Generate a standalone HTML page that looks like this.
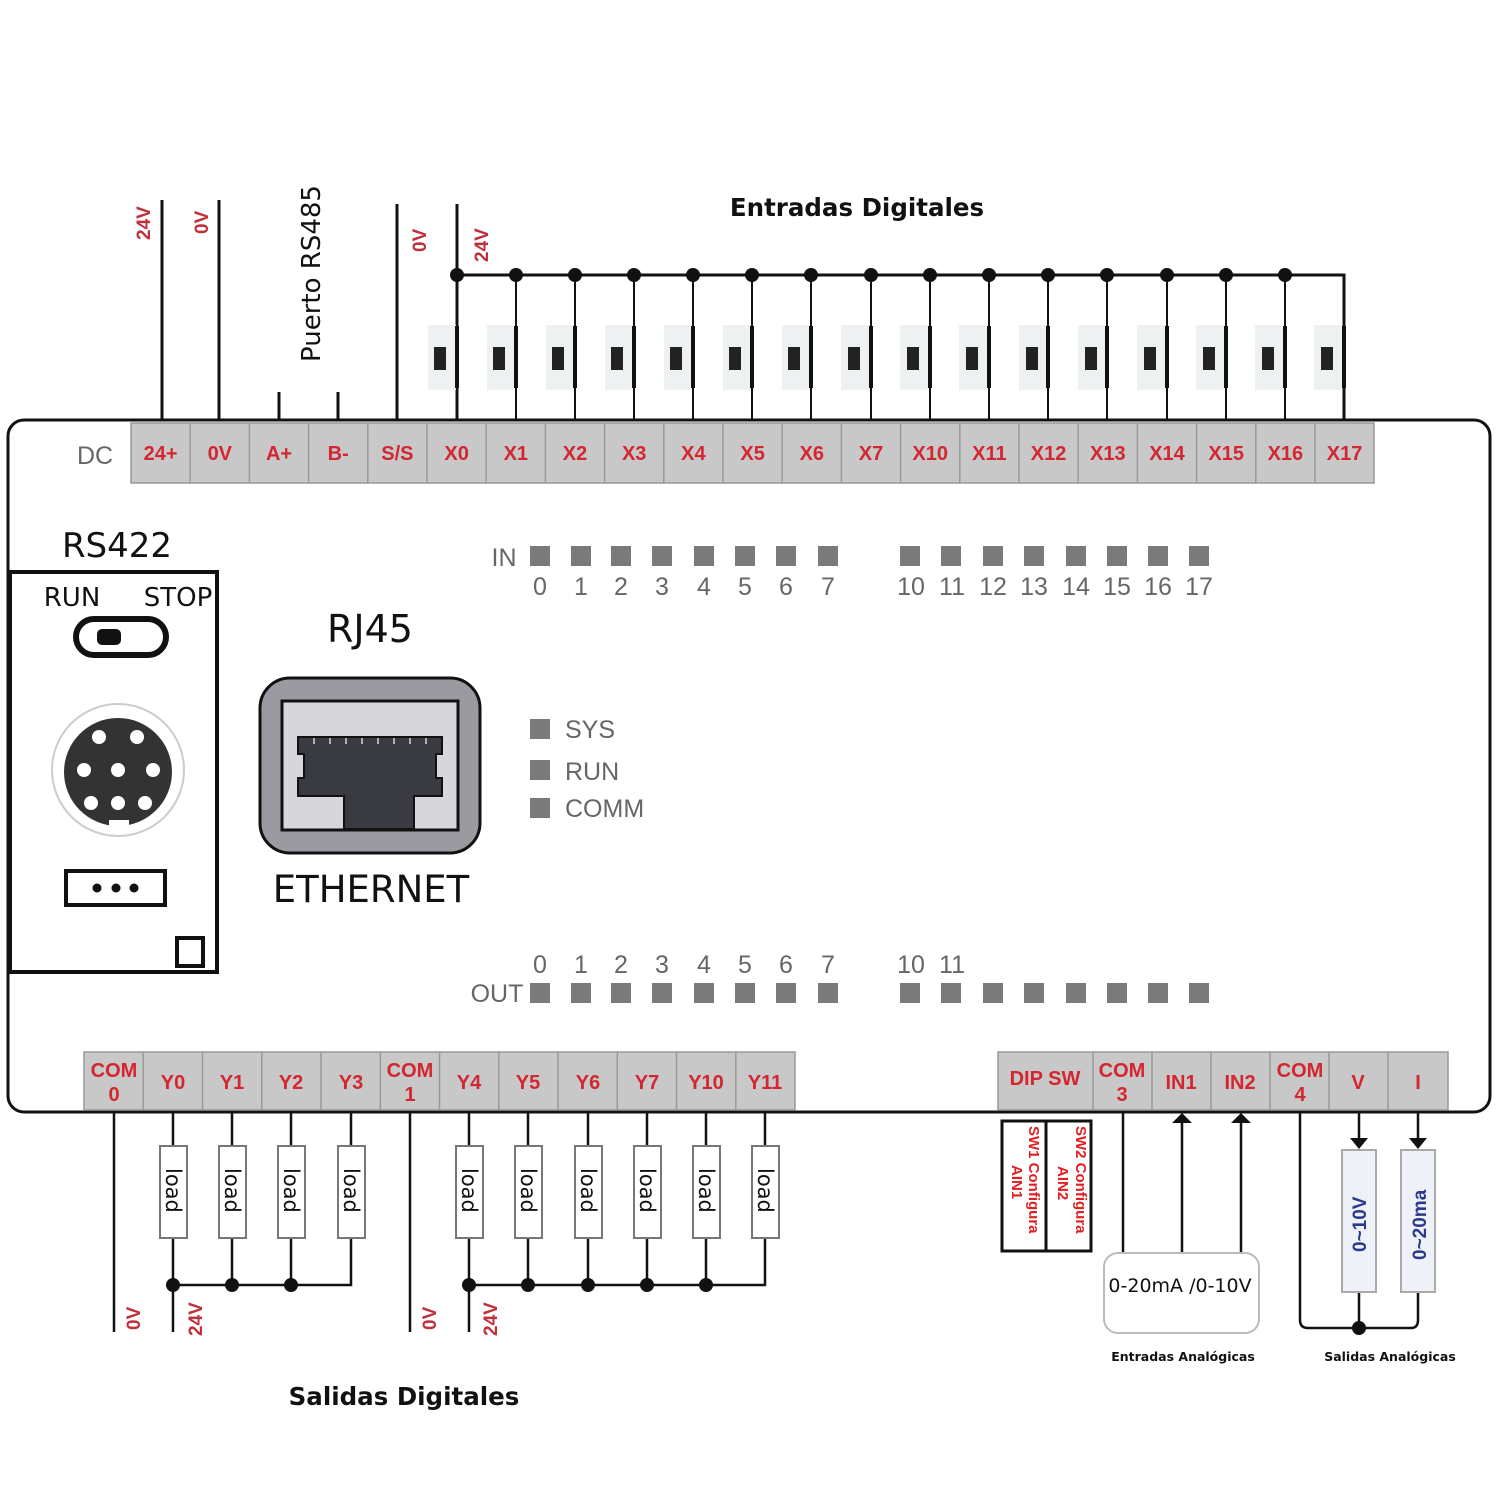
<!DOCTYPE html>
<html><head><meta charset="utf-8"><style>
html,body{margin:0;padding:0;background:#fff;width:1500px;height:1500px;overflow:hidden}
svg{display:block}
.t{font-family:"Liberation Sans",sans-serif;font-weight:bold;fill:#d42630;font-size:20px;text-anchor:middle}
.g{font-family:"Liberation Sans Narrow","Liberation Sans",sans-serif;fill:#666;font-size:25px;text-anchor:middle}
.r{font-family:"Liberation Sans",sans-serif;fill:#c0303a;font-size:19px;font-weight:bold}
.k{font-family:"DejaVu Sans","Liberation Sans",sans-serif;fill:#111}
.b{font-family:"DejaVu Sans","Liberation Sans",sans-serif;font-weight:bold;fill:#111}
</style></head><body>
<svg width="1500" height="1500" viewBox="0 0 1500 1500" xmlns="http://www.w3.org/2000/svg">
<rect x="8" y="420" width="1482" height="692" rx="16" fill="#fff" stroke="#111" stroke-width="3"/>

<rect x="131" y="423" width="1243" height="60" fill="#c8c8c8" stroke="#999" stroke-width="1.5"/>
<g stroke="#999" stroke-width="1.5">
<line x1="190.2" y1="423" x2="190.2" y2="483"/><line x1="249.4" y1="423" x2="249.4" y2="483"/><line x1="308.6" y1="423" x2="308.6" y2="483"/><line x1="367.8" y1="423" x2="367.8" y2="483"/><line x1="427" y1="423" x2="427" y2="483"/><line x1="486.2" y1="423" x2="486.2" y2="483"/><line x1="545.4" y1="423" x2="545.4" y2="483"/><line x1="604.6" y1="423" x2="604.6" y2="483"/><line x1="663.8" y1="423" x2="663.8" y2="483"/><line x1="723" y1="423" x2="723" y2="483"/><line x1="782.2" y1="423" x2="782.2" y2="483"/><line x1="841.4" y1="423" x2="841.4" y2="483"/><line x1="900.6" y1="423" x2="900.6" y2="483"/><line x1="959.8" y1="423" x2="959.8" y2="483"/><line x1="1019" y1="423" x2="1019" y2="483"/><line x1="1078.2" y1="423" x2="1078.2" y2="483"/><line x1="1137.4" y1="423" x2="1137.4" y2="483"/><line x1="1196.6" y1="423" x2="1196.6" y2="483"/><line x1="1255.8" y1="423" x2="1255.8" y2="483"/><line x1="1315" y1="423" x2="1315" y2="483"/>
</g>
<g class="t">
<text x="160.6" y="460">24+</text><text x="219.8" y="460">0V</text><text x="279" y="460">A+</text><text x="338.2" y="460">B-</text><text x="397.4" y="460">S/S</text><text x="456.6" y="460">X0</text><text x="515.8" y="460">X1</text><text x="575" y="460">X2</text><text x="634.2" y="460">X3</text><text x="693.4" y="460">X4</text><text x="752.6" y="460">X5</text><text x="811.8" y="460">X6</text><text x="871" y="460">X7</text><text x="930.2" y="460">X10</text><text x="989.4" y="460">X11</text><text x="1048.6" y="460">X12</text><text x="1107.8" y="460">X13</text><text x="1167" y="460">X14</text><text x="1226.2" y="460">X15</text><text x="1285.4" y="460">X16</text><text x="1344.6" y="460">X17</text>
</g>
<text x="95" y="464" class="g" font-size="27">DC</text>

<g stroke="#111" stroke-width="3" fill="none">
<line x1="162" y1="200" x2="162" y2="421"/><line x1="219" y1="200" x2="219" y2="421"/>
<line x1="279" y1="392" x2="279" y2="421"/><line x1="338" y1="392" x2="338" y2="421"/>
<line x1="397" y1="204" x2="397" y2="421"/><line x1="457" y1="204" x2="457" y2="421"/>
<polyline points="457,275 1344,275 1344,421"/>
</g>
<g fill="#eef1f2">
<rect x="428" y="325" width="28" height="65"/><rect x="487" y="325" width="28" height="65"/><rect x="546" y="325" width="28" height="65"/><rect x="605" y="325" width="28" height="65"/><rect x="664" y="325" width="28" height="65"/><rect x="723" y="325" width="28" height="65"/><rect x="782" y="325" width="28" height="65"/><rect x="841" y="325" width="28" height="65"/><rect x="900" y="325" width="28" height="65"/><rect x="959" y="325" width="28" height="65"/><rect x="1019" y="325" width="28" height="65"/><rect x="1078" y="325" width="28" height="65"/><rect x="1137" y="325" width="28" height="65"/><rect x="1196" y="325" width="28" height="65"/><rect x="1255" y="325" width="28" height="65"/><rect x="1314" y="325" width="28" height="65"/>
</g>
<g stroke="#111" stroke-width="2" fill="none">
<line x1="516" y1="275" x2="516" y2="421"/><line x1="575" y1="275" x2="575" y2="421"/><line x1="634" y1="275" x2="634" y2="421"/><line x1="693" y1="275" x2="693" y2="421"/><line x1="752" y1="275" x2="752" y2="421"/><line x1="811" y1="275" x2="811" y2="421"/><line x1="871" y1="275" x2="871" y2="421"/><line x1="930" y1="275" x2="930" y2="421"/><line x1="989" y1="275" x2="989" y2="421"/><line x1="1048" y1="275" x2="1048" y2="421"/><line x1="1107" y1="275" x2="1107" y2="421"/><line x1="1167" y1="275" x2="1167" y2="421"/><line x1="1226" y1="275" x2="1226" y2="421"/><line x1="1285" y1="275" x2="1285" y2="421"/>
</g>
<g stroke="#111" stroke-width="4">
<line x1="457" y1="326" x2="457" y2="388"/><line x1="516" y1="326" x2="516" y2="388"/><line x1="575" y1="326" x2="575" y2="388"/><line x1="634" y1="326" x2="634" y2="388"/><line x1="693" y1="326" x2="693" y2="388"/><line x1="752" y1="326" x2="752" y2="388"/><line x1="811" y1="326" x2="811" y2="388"/><line x1="871" y1="326" x2="871" y2="388"/><line x1="930" y1="326" x2="930" y2="388"/><line x1="989" y1="326" x2="989" y2="388"/><line x1="1048" y1="326" x2="1048" y2="388"/><line x1="1107" y1="326" x2="1107" y2="388"/><line x1="1167" y1="326" x2="1167" y2="388"/><line x1="1226" y1="326" x2="1226" y2="388"/><line x1="1285" y1="326" x2="1285" y2="388"/><line x1="1344" y1="326" x2="1344" y2="388"/>
</g>
<g fill="#222">
<rect x="434" y="347" width="12" height="23"/><rect x="493" y="347" width="12" height="23"/><rect x="552" y="347" width="12" height="23"/><rect x="611" y="347" width="12" height="23"/><rect x="670" y="347" width="12" height="23"/><rect x="729" y="347" width="12" height="23"/><rect x="788" y="347" width="12" height="23"/><rect x="848" y="347" width="12" height="23"/><rect x="907" y="347" width="12" height="23"/><rect x="966" y="347" width="12" height="23"/><rect x="1026" y="347" width="12" height="23"/><rect x="1085" y="347" width="12" height="23"/><rect x="1144" y="347" width="12" height="23"/><rect x="1203" y="347" width="12" height="23"/><rect x="1262" y="347" width="12" height="23"/><rect x="1321" y="347" width="12" height="23"/>
</g>
<g fill="#111">
<circle cx="457" cy="275" r="7"/><circle cx="516" cy="275" r="7"/><circle cx="575" cy="275" r="7"/><circle cx="634" cy="275" r="7"/><circle cx="693" cy="275" r="7"/><circle cx="752" cy="275" r="7"/><circle cx="811" cy="275" r="7"/><circle cx="871" cy="275" r="7"/><circle cx="930" cy="275" r="7"/><circle cx="989" cy="275" r="7"/><circle cx="1048" cy="275" r="7"/><circle cx="1107" cy="275" r="7"/><circle cx="1167" cy="275" r="7"/><circle cx="1226" cy="275" r="7"/><circle cx="1285" cy="275" r="7"/>
</g>
<g class="r">
<text transform="translate(150,240) rotate(-90)">24V</text>
<text transform="translate(208,234) rotate(-90)">0V</text>
<text transform="translate(426,252) rotate(-90)">0V</text>
<text transform="translate(488,262) rotate(-90)">24V</text>
</g>
<text transform="translate(320,362) rotate(-90)" class="k" font-size="26">Puerto RS485</text>
<text x="857" y="216" class="b" font-size="24.5" text-anchor="middle">Entradas Digitales</text>

<g fill="#7a7a7a">
<rect x="530" y="546" width="20" height="20"/><rect x="571" y="546" width="20" height="20"/><rect x="611" y="546" width="20" height="20"/><rect x="652" y="546" width="20" height="20"/><rect x="694" y="546" width="20" height="20"/><rect x="735" y="546" width="20" height="20"/><rect x="776" y="546" width="20" height="20"/><rect x="818" y="546" width="20" height="20"/>
<rect x="900" y="546" width="20" height="20"/><rect x="941" y="546" width="20" height="20"/><rect x="983" y="546" width="20" height="20"/><rect x="1024" y="546" width="20" height="20"/><rect x="1066" y="546" width="20" height="20"/><rect x="1107" y="546" width="20" height="20"/><rect x="1148" y="546" width="20" height="20"/><rect x="1189" y="546" width="20" height="20"/>
<rect x="530" y="983" width="20" height="20"/><rect x="571" y="983" width="20" height="20"/><rect x="611" y="983" width="20" height="20"/><rect x="652" y="983" width="20" height="20"/><rect x="694" y="983" width="20" height="20"/><rect x="735" y="983" width="20" height="20"/><rect x="776" y="983" width="20" height="20"/><rect x="818" y="983" width="20" height="20"/>
<rect x="900" y="983" width="20" height="20"/><rect x="941" y="983" width="20" height="20"/><rect x="983" y="983" width="20" height="20"/><rect x="1024" y="983" width="20" height="20"/><rect x="1066" y="983" width="20" height="20"/><rect x="1107" y="983" width="20" height="20"/><rect x="1148" y="983" width="20" height="20"/><rect x="1189" y="983" width="20" height="20"/>
<rect x="530" y="719" width="20" height="20"/><rect x="530" y="760" width="20" height="20"/><rect x="530" y="798" width="20" height="20"/>
</g>
<g class="g">
<text x="504" y="566">IN</text>
<text x="540" y="595">0</text><text x="581" y="595">1</text><text x="621" y="595">2</text><text x="662" y="595">3</text><text x="704" y="595">4</text><text x="745" y="595">5</text><text x="786" y="595">6</text><text x="828" y="595">7</text>
<text x="911" y="595">10</text><text x="952" y="595">11</text><text x="993" y="595">12</text><text x="1034" y="595">13</text><text x="1076" y="595">14</text><text x="1117" y="595">15</text><text x="1158" y="595">16</text><text x="1199" y="595">17</text>
<text x="497" y="1002">OUT</text>
<text x="540" y="973">0</text><text x="581" y="973">1</text><text x="621" y="973">2</text><text x="662" y="973">3</text><text x="704" y="973">4</text><text x="745" y="973">5</text><text x="786" y="973">6</text><text x="828" y="973">7</text>
<text x="911" y="973">10</text><text x="952" y="973">11</text>
<text x="565" y="738" text-anchor="start">SYS</text><text x="565" y="780" text-anchor="start">RUN</text><text x="565" y="817" text-anchor="start">COMM</text>
</g>

<text x="117" y="557" class="k" font-size="34" text-anchor="middle">RS422</text>
<rect x="10" y="572" width="207" height="400" fill="#fff" stroke="#111" stroke-width="4"/>
<text x="72" y="606" class="k" font-size="26" text-anchor="middle">RUN</text>
<text x="178" y="606" class="k" font-size="26" text-anchor="middle">STOP</text>
<rect x="76" y="619" width="90" height="36" rx="18" fill="#fff" stroke="#111" stroke-width="6"/>
<rect x="97" y="629" width="24" height="16" rx="5" fill="#111"/>
<circle cx="118" cy="770" r="66" fill="#fff" stroke="#ccc" stroke-width="2"/>
<circle cx="118" cy="772" r="54" fill="#333"/>
<rect x="109" y="820" width="20" height="9" fill="#fff"/>
<g fill="#fff"><circle cx="99" cy="737" r="7"/><circle cx="137" cy="737" r="7"/><circle cx="84" cy="770" r="7"/><circle cx="118" cy="770" r="7"/><circle cx="153" cy="770" r="7"/><circle cx="91" cy="803" r="7"/><circle cx="118" cy="803" r="7"/><circle cx="145" cy="803" r="7"/></g>
<rect x="66" y="871" width="99" height="34" fill="#fff" stroke="#111" stroke-width="4"/>
<g fill="#111"><circle cx="97" cy="888" r="4.5"/><circle cx="116" cy="888" r="4.5"/><circle cx="134" cy="888" r="4.5"/></g>
<rect x="177" y="938" width="26" height="28" fill="#fff" stroke="#111" stroke-width="4"/>

<text x="370" y="642" class="k" font-size="38" text-anchor="middle">RJ45</text>
<rect x="260" y="678" width="220" height="175" rx="30" fill="#9a9aa0" stroke="#111" stroke-width="3"/>
<rect x="282" y="701" width="176" height="129" fill="#d7d7db" stroke="#111" stroke-width="3"/>
<path d="M298 737 L442 737 L442 754 L436 754 L436 778 L442 778 L442 796 L414 796 L414 829 L344 829 L344 796 L298 796 L298 778 L304 778 L304 754 L298 754 Z" fill="#3a3a42" stroke="#111" stroke-width="2"/>
<g stroke="#d7d7db" stroke-width="1.5"><line x1="314" y1="738" x2="314" y2="744"/><line x1="330" y1="738" x2="330" y2="744"/><line x1="346" y1="738" x2="346" y2="744"/><line x1="362" y1="738" x2="362" y2="744"/><line x1="378" y1="738" x2="378" y2="744"/><line x1="394" y1="738" x2="394" y2="744"/><line x1="410" y1="738" x2="410" y2="744"/><line x1="426" y1="738" x2="426" y2="744"/></g>
<text x="371" y="902" class="k" font-size="37" text-anchor="middle">ETHERNET</text>

<rect x="84" y="1052" width="711" height="58" fill="#c8c8c8" stroke="#999" stroke-width="1.5"/>
<g stroke="#999" stroke-width="1.5">
<line x1="143.3" y1="1052" x2="143.3" y2="1110"/><line x1="202.5" y1="1052" x2="202.5" y2="1110"/><line x1="261.8" y1="1052" x2="261.8" y2="1110"/><line x1="321" y1="1052" x2="321" y2="1110"/><line x1="380.3" y1="1052" x2="380.3" y2="1110"/><line x1="439.5" y1="1052" x2="439.5" y2="1110"/><line x1="498.8" y1="1052" x2="498.8" y2="1110"/><line x1="558" y1="1052" x2="558" y2="1110"/><line x1="617.3" y1="1052" x2="617.3" y2="1110"/><line x1="676.5" y1="1052" x2="676.5" y2="1110"/><line x1="735.8" y1="1052" x2="735.8" y2="1110"/>
</g>
<g class="t">
<text x="114" y="1077">COM</text><text x="114" y="1101">0</text>
<text x="173" y="1089">Y0</text><text x="232" y="1089">Y1</text><text x="291" y="1089">Y2</text><text x="351" y="1089">Y3</text>
<text x="410" y="1077">COM</text><text x="410" y="1101">1</text>
<text x="469" y="1089">Y4</text><text x="528" y="1089">Y5</text><text x="588" y="1089">Y6</text><text x="647" y="1089">Y7</text><text x="706" y="1089">Y10</text><text x="765" y="1089">Y11</text>
</g>
<rect x="998" y="1052" width="450" height="58" fill="#c8c8c8" stroke="#999" stroke-width="1.5"/>
<g stroke="#999" stroke-width="1.5">
<line x1="1093" y1="1052" x2="1093" y2="1110"/><line x1="1152" y1="1052" x2="1152" y2="1110"/><line x1="1211" y1="1052" x2="1211" y2="1110"/><line x1="1270" y1="1052" x2="1270" y2="1110"/><line x1="1329" y1="1052" x2="1329" y2="1110"/><line x1="1388" y1="1052" x2="1388" y2="1110"/>
</g>
<g class="t">
<text x="1045" y="1085">DIP SW</text>
<text x="1122" y="1077">COM</text><text x="1122" y="1101">3</text>
<text x="1181" y="1089">IN1</text><text x="1240" y="1089">IN2</text>
<text x="1300" y="1077">COM</text><text x="1300" y="1101">4</text>
<text x="1358" y="1089">V</text><text x="1418" y="1089">I</text>
</g>

<g stroke="#111" stroke-width="2.5" fill="none">
<line x1="114" y1="1112" x2="114" y2="1332"/><line x1="410" y1="1112" x2="410" y2="1332"/>
<line x1="173" y1="1112" x2="173" y2="1332"/><line x1="469" y1="1112" x2="469" y2="1332"/>
<line x1="232" y1="1112" x2="232" y2="1285"/><line x1="291" y1="1112" x2="291" y2="1285"/>
<line x1="528" y1="1112" x2="528" y2="1285"/><line x1="588" y1="1112" x2="588" y2="1285"/><line x1="647" y1="1112" x2="647" y2="1285"/><line x1="706" y1="1112" x2="706" y2="1285"/>
<polyline points="173,1285 351,1285 351,1112"/>
<polyline points="469,1285 765,1285 765,1112"/>
</g>
<g fill="#fff" stroke="#777" stroke-width="2">
<rect x="160" y="1146" width="27" height="92"/><rect x="219" y="1146" width="27" height="92"/><rect x="278" y="1146" width="27" height="92"/><rect x="338" y="1146" width="27" height="92"/>
<rect x="456" y="1146" width="27" height="92"/><rect x="515" y="1146" width="27" height="92"/><rect x="575" y="1146" width="27" height="92"/><rect x="634" y="1146" width="27" height="92"/><rect x="693" y="1146" width="27" height="92"/><rect x="752" y="1146" width="27" height="92"/>
</g>
<g class="k" font-size="21">
<text transform="translate(166,1168) rotate(90)">load</text><text transform="translate(225,1168) rotate(90)">load</text><text transform="translate(284,1168) rotate(90)">load</text><text transform="translate(344,1168) rotate(90)">load</text>
<text transform="translate(462,1168) rotate(90)">load</text><text transform="translate(521,1168) rotate(90)">load</text><text transform="translate(581,1168) rotate(90)">load</text><text transform="translate(640,1168) rotate(90)">load</text><text transform="translate(699,1168) rotate(90)">load</text><text transform="translate(758,1168) rotate(90)">load</text>
</g>
<g fill="#111">
<circle cx="173" cy="1285" r="7"/><circle cx="232" cy="1285" r="7"/><circle cx="291" cy="1285" r="7"/>
<circle cx="469" cy="1285" r="7"/><circle cx="528" cy="1285" r="7"/><circle cx="588" cy="1285" r="7"/><circle cx="647" cy="1285" r="7"/><circle cx="706" cy="1285" r="7"/>
</g>
<g class="r">
<text transform="translate(140,1330) rotate(-90)">0V</text><text transform="translate(202,1336) rotate(-90)">24V</text>
<text transform="translate(436,1330) rotate(-90)">0V</text><text transform="translate(497,1336) rotate(-90)">24V</text>
</g>
<text x="404" y="1405" class="b" font-size="24.5" text-anchor="middle">Salidas Digitales</text>

<rect x="1002" y="1121" width="89" height="130" fill="#fff" stroke="#111" stroke-width="3"/>
<line x1="1046" y1="1121" x2="1046" y2="1251" stroke="#111" stroke-width="3"/>
<g font-family="Liberation Sans,sans-serif" font-weight="bold" fill="#e02020" font-size="15">
<text transform="translate(1029,1126) rotate(90)">SW1 Configura</text>
<text transform="translate(1012,1165) rotate(90)">AIN1</text>
<text transform="translate(1076,1126) rotate(90)">SW2 Configura</text>
<text transform="translate(1058,1166) rotate(90)">AIN2</text>
</g>

<g stroke="#111" stroke-width="2.5" fill="none">
<line x1="1123" y1="1112" x2="1123" y2="1254"/>
<line x1="1182" y1="1118" x2="1182" y2="1254"/>
<line x1="1241" y1="1118" x2="1241" y2="1254"/>
<path d="M1300 1112 L1300 1320 Q1300 1328 1308 1328 L1411 1328 Q1418 1328 1418 1320 L1418 1290"/>
<line x1="1359" y1="1290" x2="1359" y2="1328"/>
<line x1="1359" y1="1112" x2="1359" y2="1140"/>
<line x1="1418" y1="1112" x2="1418" y2="1140"/>
</g>
<g fill="#111">
<polygon points="1182,1113 1172,1123 1192,1123"/>
<polygon points="1241,1113 1231,1123 1251,1123"/>
<polygon points="1359,1149 1350,1138 1368,1138"/>
<polygon points="1418,1149 1409,1138 1427,1138"/>
<circle cx="1359" cy="1328" r="7"/>
</g>
<rect x="1104" y="1253" width="155" height="80" rx="14" fill="#fff" stroke="#bbb" stroke-width="2"/>
<text x="1180" y="1292" class="k" font-size="19" text-anchor="middle" font-family="Liberation Sans,sans-serif">0-20mA /0-10V</text>
<rect x="1342" y="1150" width="34" height="142" fill="#eef1f8" stroke="#aaa" stroke-width="2"/>
<rect x="1401" y="1150" width="34" height="142" fill="#eef1f8" stroke="#aaa" stroke-width="2"/>
<g font-family="Liberation Sans,sans-serif" font-weight="bold" fill="#2a3a8a" font-size="19">
<text transform="translate(1366,1252) rotate(-90)">0~10V</text>
<text transform="translate(1426,1260) rotate(-90)">0~20ma</text>
</g>
<text x="1183" y="1361" class="b" font-size="12.5" text-anchor="middle">Entradas Analógicas</text>
<text x="1390" y="1361" class="b" font-size="12.5" text-anchor="middle">Salidas Analógicas</text>
</svg>
</body></html>
